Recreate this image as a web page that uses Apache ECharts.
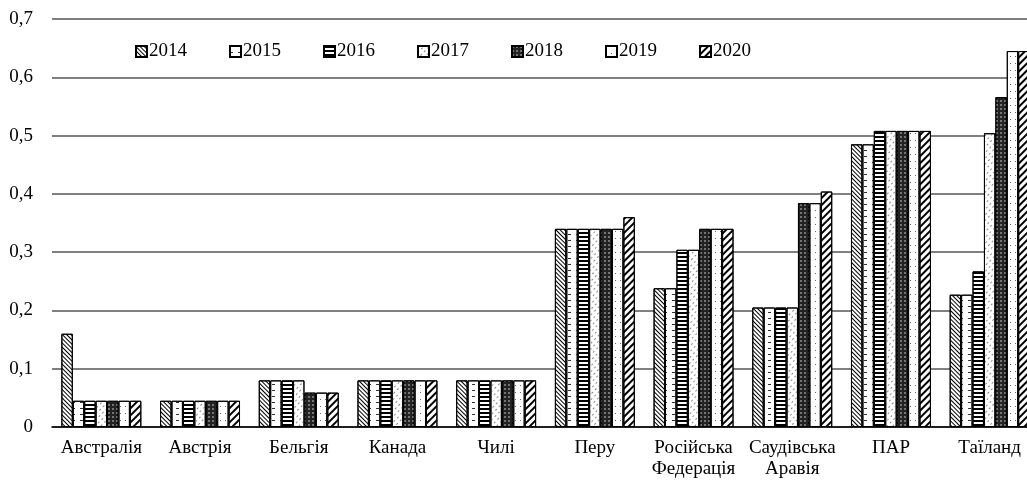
<!DOCTYPE html>
<html>
<head>
<meta charset="utf-8">
<script src="https://cdn.jsdelivr.net/npm/echarts@6/dist/echarts.min.js"></script>
<style>
  html, body { margin: 0; padding: 0; background: #fff; }
  #chart { width: 1027px; height: 482px; }
</style>
</head>
<body>
<div id="chart"></div>
<script>
const countries = ['Австралія', 'Австрія', 'Бельгія', 'Канада', 'Чилі', 'Перу',
  'Російська\nФедерація', 'Саудівська\nАравія', 'ПАР', 'Таїланд']
const years = ['2014', '2015', '2016', '2017', '2018', '2019', '2020']

const v2014 = [0.16, 0.045, 0.08, 0.08, 0.08, 0.34, 0.238, 0.205, 0.485, 0.227]
const v2015 = [0.045, 0.045, 0.08, 0.08, 0.08, 0.34, 0.238, 0.205, 0.485, 0.227]
const v2016 = [0.045, 0.045, 0.08, 0.08, 0.08, 0.34, 0.304, 0.205, 0.508, 0.267]
const v2017 = [0.045, 0.045, 0.08, 0.08, 0.08, 0.34, 0.304, 0.205, 0.508, 0.504]
const v2018 = [0.045, 0.045, 0.059, 0.08, 0.08, 0.34, 0.34, 0.384, 0.508, 0.566]
const v2019 = [0.045, 0.045, 0.059, 0.08, 0.08, 0.34, 0.34, 0.384, 0.508, 0.645]
const v2020 = [0.045, 0.045, 0.059, 0.08, 0.08, 0.36, 0.34, 0.404, 0.508, 0.645]

const values = [v2014, v2015, v2016, v2017, v2018, v2019, v2020]

// чорно-білі штрихування для кожного року
const fills = ['#fff', '#fff', '#fff', '#fff', '#222', '#fff', '#fff']
const decals = [
  { symbol: 'rect', symbolSize: 1, dashArrayX: [1, 0], dashArrayY: [1, 2], rotation: Math.PI / 4, color: '#000' },
  { symbol: 'rect', symbolSize: 1, dashArrayX: [[3, 5]], dashArrayY: [1, 5], color: '#333' },
  { symbol: 'rect', symbolSize: 1, dashArrayX: [1, 0], dashArrayY: [1.5, 2], color: '#000' },
  { symbol: 'rect', symbolSize: 1, dashArrayX: [[2, 3]], dashArrayY: [1, 3], rotation: -Math.PI / 4, color: '#888' },
  { symbol: 'circle', symbolSize: 0.8, dashArrayX: [2, 2], dashArrayY: [2, 2], color: '#ddd' },
  { symbol: 'rect', symbolSize: 1, dashArrayX: [[1, 4]], dashArrayY: [1, 6], color: '#666' },
  { symbol: 'rect', symbolSize: 1, dashArrayX: [1, 0], dashArrayY: [2, 3], rotation: -Math.PI / 4, color: '#000' }
]

const chart = echarts.init(document.getElementById('chart'), null, { renderer: 'canvas' })

const series = years.map((y, i) => ({
  name: y,
  type: 'bar',
  data: values[i],
  barGap: 0,
  barCategoryGap: '19%',
  itemStyle: {
    color: fills[i],
    borderColor: '#000',
    borderWidth: 1,
    decal: decals[i]
  }
}))

chart.setOption({
  animation: false,
  backgroundColor: '#fff',
  textStyle: { fontFamily: 'Liberation Serif', color: '#000' },
  legend: {
    left: 130,
    top: 37,
    itemWidth: 11,
    itemHeight: 11,
    itemGap: 42,
    icon: 'rect',
    textStyle: { fontFamily: 'Liberation Serif', fontSize: 19, color: '#000', padding: [0, 0, 0, -3] },
    data: years
  },
  grid: { left: 52, top: 19, bottom: 55, right: -12, containLabel: false, outerBoundsMode: 'none' },
  xAxis: {
    type: 'category',
    data: countries,
    axisLine: { lineStyle: { color: '#000', width: 1.5 } },
    axisTick: { show: false },
    axisLabel: {
      interval: 0,
      fontFamily: 'Liberation Serif',
      fontSize: 19,
      color: '#000',
      margin: 11,
      lineHeight: 21
    }
  },
  yAxis: {
    type: 'value',
    min: 0,
    max: 0.7,
    interval: 0.1,
    axisLine: { show: false },
    axisTick: { show: false },
    splitLine: { lineStyle: { color: '#555', width: 1.5 } },
    axisLabel: {
      fontFamily: 'Liberation Serif',
      fontSize: 19,
      color: '#000',
      margin: 19,
      formatter: v => v === 0 ? '0' : v.toFixed(1).replace('.', ',')
    }
  },
  series: series
})
</script>
</body>
</html>
